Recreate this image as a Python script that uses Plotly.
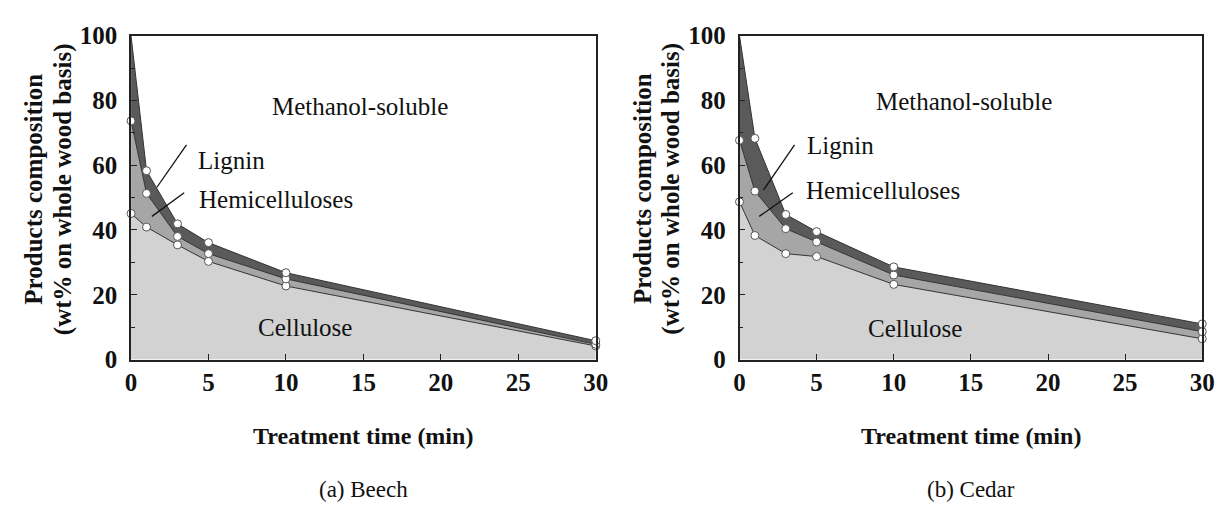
import plotly.graph_objects as go

# ---------------- data ----------------
time_min = [0, 1, 3, 5, 10, 30]

beech_cellulose = [45.1, 40.9, 35.4, 30.3, 22.7, 4.2]
beech_cel_hemi = [73.7, 51.3, 38.0, 32.7, 24.9, 4.7]
beech_total = [100.0, 58.3, 41.9, 36.1, 26.8, 5.8]

cedar_cellulose = [48.7, 38.3, 32.7, 31.8, 23.2, 6.4]
cedar_cel_hemi = [67.7, 52.0, 40.4, 36.3, 26.1, 8.6]
cedar_total = [100.0, 68.3, 44.8, 39.5, 28.6, 11.0]

x_ticks = [0, 5, 10, 15, 20, 25, 30]
y_ticks = [0, 20, 40, 60, 80, 100]

panels = [
    ("(a) Beech", beech_cellulose, beech_cel_hemi, beech_total),
    ("(b) Cedar", cedar_cellulose, cedar_cel_hemi, cedar_total),
]

# ---------------- style ----------------
SERIF = "Liberation Serif"
C_CELL = "#d2d2d2"
C_HEMI = "#a6a6a6"
C_LIG = "#5a5a5a"
C_LINE = "#333333"

W, H = 1231, 507
x_domains = [[127 / W, 599 / W], [745 / W, 1215 / W]]
y_domain = [1 - 366 / H, 1 - 24 / H]

fig = go.Figure()

marker_style = dict(symbol="circle", size=8, color="white",
                    line=dict(color="#555555", width=1))

for i, (label, cel, ch, tot) in enumerate(panels):
    xa = "x" if i == 0 else "x2"
    ya = "y" if i == 0 else "y2"
    fig.add_trace(go.Scatter(x=time_min, y=cel, xaxis=xa, yaxis=ya, mode="lines",
                             line=dict(color=C_LINE, width=1), fill="tozeroy",
                             fillcolor=C_CELL, showlegend=False, hoverinfo="skip"))
    fig.add_trace(go.Scatter(x=time_min, y=ch, xaxis=xa, yaxis=ya, mode="lines",
                             line=dict(color=C_LINE, width=1), fill="tonexty",
                             fillcolor=C_HEMI, showlegend=False, hoverinfo="skip"))
    fig.add_trace(go.Scatter(x=time_min, y=tot, xaxis=xa, yaxis=ya, mode="lines",
                             line=dict(color=C_LINE, width=1), fill="tonexty",
                             fillcolor=C_LIG, showlegend=False, hoverinfo="skip"))
    for series, skip_first in ((cel, False), (ch, False), (tot, True)):
        xs = time_min[1:] if skip_first else time_min
        ys = series[1:] if skip_first else series
        fig.add_trace(go.Scatter(x=xs, y=ys, xaxis=xa, yaxis=ya, mode="markers",
                                 marker=marker_style, showlegend=False,
                                 cliponaxis=False, hoverinfo="skip"))

axis_common = dict(
    showline=True, linecolor="#222222", linewidth=1.5, mirror=True,
    ticks="inside", ticklen=6, tickcolor="#222222", tickwidth=1.2,
    showgrid=False, zeroline=False,
    tickfont=dict(family=SERIF, size=25, color="#111111", weight="bold"),
)

layout_axes = {}
for i in range(2):
    sx = "" if i == 0 else "2"
    layout_axes["xaxis" + sx] = dict(
        axis_common, domain=x_domains[i], range=[0, 30], tickvals=x_ticks,
        anchor="y" + sx, ticklabelstandoff=0,
    )
    layout_axes["yaxis" + sx] = dict(
        axis_common, domain=y_domain, range=[0, 100], tickvals=y_ticks,
        anchor="x" + sx, ticklabelstandoff=7,
        minor=dict(ticks="inside", ticklen=4, dtick=10, tickcolor="#222222"),
    )

annotations = []
shapes = []

label_pos = [
    dict(meth=(14.8, 78.0), lig=(6.5, 61.5), hemi=(9.35, 49.3), cell=(11.25, 10.0),
         lig_line=((3.58, 66.3), (1.67, 53.2)), hemi_line=((3.43, 51.5), (1.35, 44.2))),
    dict(meth=(14.55, 79.7), lig=(6.54, 66.0), hemi=(9.33, 52.2), cell=(11.4, 9.6),
         lig_line=((3.57, 66.3), (1.55, 52.3)), hemi_line=((3.45, 51.5), (1.28, 44.2))),
]

for i, (label, *_rest) in enumerate(panels):
    sx = "" if i == 0 else "2"
    xr, yr = "x" + sx, "y" + sx
    p = label_pos[i]
    for key, txt in (("meth", "Methanol-soluble"), ("lig", "Lignin"),
                     ("hemi", "Hemicelluloses"), ("cell", "Cellulose")):
        annotations.append(dict(x=p[key][0], y=p[key][1], xref=xr, yref=yr,
                                text=txt, showarrow=False,
                                xanchor="center", yanchor="middle",
                                font=dict(family=SERIF, size=25, color="#111111")))
    for key in ("lig_line", "hemi_line"):
        (x0, y0), (x1, y1) = p[key]
        shapes.append(dict(type="line", xref=xr, yref=yr, x0=x0, y0=y0, x1=x1, y1=y1,
                           line=dict(color="#111111", width=1.3)))
    xd = x_domains[i]
    xc = (xd[0] + xd[1]) / 2
    annotations.append(dict(x=xc, y=1 - 447 / H, xref="paper", yref="paper",
                            text="<b>Treatment time (min)</b>", showarrow=False,
                            xanchor="center", yanchor="middle",
                            font=dict(family=SERIF, size=24, color="#111111")))
    annotations.append(dict(x=xc, y=1 - 503 / H, xref="paper", yref="paper",
                            text=label, showarrow=False,
                            xanchor="center", yanchor="middle",
                            font=dict(family=SERIF, size=23, color="#111111")))
    for line_txt, dx in (("<b>Products composition</b>", 99),
                         ("<b>(wt% on whole wood basis)</b>", 69)):
        annotations.append(dict(x=xd[0] - dx / W, y=1 - 186 / H, xref="paper", yref="paper",
                                text=line_txt, textangle=-90, showarrow=False,
                                xanchor="center", yanchor="middle",
                                font=dict(family=SERIF, size=25, color="#111111")))

fig.update_layout(
    width=W, height=H,
    margin=dict(l=0, r=0, t=0, b=0),
    paper_bgcolor="white", plot_bgcolor="white",
    annotations=annotations, shapes=shapes,
    **layout_axes,
)

fig.write_html("out.html")
